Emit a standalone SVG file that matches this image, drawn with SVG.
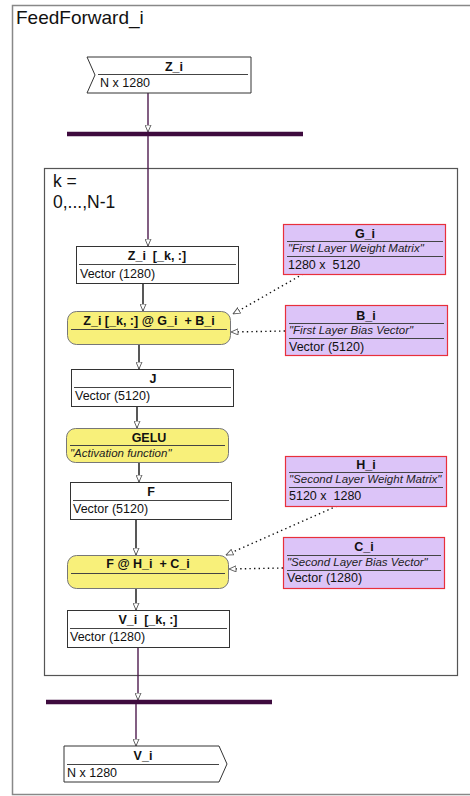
<svg xmlns="http://www.w3.org/2000/svg" width="470" height="796" viewBox="0 0 470 796">
  <style>
    text { font-family: "Liberation Sans", Arial, sans-serif; fill: #111; }
    .title { font-size: 12.5px; font-weight: bold; text-anchor: middle; }
    .body { font-size: 12.5px; }
    .note { font-size: 11.5px; font-style: italic; fill: #222; }
    .frame-label { font-size: 19px; }
    .loop-label { font-size: 17.5px; }
    .plain { fill: #fff; stroke: #333; stroke-width: 1; }
    .op { fill: #f8f07a; stroke: #777; stroke-width: 1; }
    .param { fill: #dcc4f8; stroke: #e8303c; stroke-width: 1.2; }
    .sep { stroke: #444; stroke-width: 1; }
    .flow { stroke: #111; stroke-width: 1.4; fill: none; marker-end: url(#open); }
    .dataflow { stroke: #4e1a4e; stroke-width: 1.4; fill: none; marker-end: url(#open); }
    .dep { stroke: #111; stroke-width: 1.4; stroke-dasharray: 1.4 3.2; fill: none; marker-end: url(#open); }
    .bar { stroke: #3e0b3e; stroke-width: 4.5; }
  </style>
  <defs>
    <marker id="open" viewBox="0 0 8 7" refX="7.5" refY="3.5" markerWidth="8" markerHeight="7" markerUnits="userSpaceOnUse" orient="auto">
      <path d="M0.5,0.5 L7.5,3.5 L0.5,6.5 Z" fill="#fff" stroke="#555" stroke-width="0.9"/>
    </marker>
  </defs>

  <!-- outer function frame -->
  <g id="frame">
    <rect x="12.5" y="5.5" width="470" height="789" fill="#fff" stroke="#888" stroke-width="1.5"/>
    <text class="frame-label" x="16" y="24">FeedForward_i</text>
  </g>

  <!-- loop over rows -->
  <g id="loop">
    <rect x="44.5" y="168.5" width="413" height="507" fill="none" stroke="#555" stroke-width="1.2"/>
    <text class="loop-label" x="53" y="187">k =</text>
    <text class="loop-label" x="53" y="208">0,...,N-1</text>
  </g>

  <!-- connectors -->
  <g id="connectors">
    <line class="dataflow" x1="148" y1="93" x2="148" y2="132"/>
    <line class="bar" x1="67" y1="134" x2="303" y2="134"/>
    <line class="dataflow" x1="148" y1="136" x2="148" y2="246"/>
    <line class="flow" x1="143" y1="283" x2="143" y2="311"/>
    <line class="flow" x1="139" y1="344" x2="139" y2="369"/>
    <line class="flow" x1="137" y1="406" x2="137" y2="428"/>
    <line class="flow" x1="139" y1="462" x2="139" y2="482"/>
    <line class="flow" x1="136" y1="519" x2="136" y2="555"/>
    <line class="flow" x1="136" y1="588" x2="136" y2="610"/>
    <line class="dataflow" x1="138" y1="647" x2="138" y2="700"/>
    <line class="bar" x1="46" y1="702" x2="272" y2="702"/>
    <line class="dataflow" x1="136" y1="704" x2="136" y2="746"/>
    <line class="dep" x1="303" y1="274" x2="233" y2="314"/>
    <line class="dep" x1="285" y1="331" x2="231" y2="332"/>
    <line class="dep" x1="337" y1="506" x2="226" y2="555"/>
    <line class="dep" x1="283" y1="568" x2="229" y2="569"/>
  </g>

  <!-- input port -->
  <g id="Z_i">
    <polygon class="plain" points="87,57 251,57 251,93 87,93 95,75"/>
    <line class="sep" x1="98" y1="74.5" x2="248" y2="74.5"/>
    <text class="title" x="174" y="71">Z_i</text>
    <text class="body" x="100" y="87">N x 1280</text>
  </g>

  <g id="Z_i_row">
    <rect class="plain" x="76.5" y="246.5" width="162" height="37"/>
    <line class="sep" x1="79" y1="264.5" x2="236" y2="264.5"/>
    <text class="title" x="157" y="260" xml:space="preserve">Z_i  [_k, :]</text>
    <text class="body" x="80" y="278">Vector (1280)</text>
  </g>

  <g id="first_layer">
    <rect class="op" x="67.5" y="311.5" width="163" height="33" rx="9"/>
    <line class="sep" x1="71" y1="329.5" x2="227" y2="329.5"/>
    <text class="title" x="149" y="325" xml:space="preserve">Z_i [_k, :] @ G_i  + B_i</text>
  </g>

  <g id="J">
    <rect class="plain" x="71.5" y="369.5" width="162" height="37"/>
    <line class="sep" x1="74" y1="387.5" x2="231" y2="387.5"/>
    <text class="title" x="153" y="383">J</text>
    <text class="body" x="75" y="400">Vector (5120)</text>
  </g>

  <g id="GELU">
    <rect class="op" x="66.5" y="428.5" width="162" height="34" rx="9"/>
    <line class="sep" x1="70" y1="445.5" x2="225" y2="445.5"/>
    <text class="title" x="149" y="442">GELU</text>
    <text class="note" x="70" y="457">"Activation function"</text>
  </g>

  <g id="F">
    <rect class="plain" x="70.5" y="482.5" width="161" height="37"/>
    <line class="sep" x1="73" y1="500.5" x2="229" y2="500.5"/>
    <text class="title" x="151" y="496">F</text>
    <text class="body" x="73" y="513">Vector (5120)</text>
  </g>

  <g id="second_layer">
    <rect class="op" x="67.5" y="555.5" width="161" height="33" rx="9"/>
    <line class="sep" x1="71" y1="573.5" x2="225" y2="573.5"/>
    <text class="title" x="148" y="568" xml:space="preserve">F @ H_i  + C_i</text>
  </g>

  <g id="V_i_row">
    <rect class="plain" x="67.5" y="610.5" width="162" height="37"/>
    <line class="sep" x1="70" y1="628.5" x2="227" y2="628.5"/>
    <text class="title" x="148" y="624" xml:space="preserve">V_i  [_k, :]</text>
    <text class="body" x="70" y="641">Vector (1280)</text>
  </g>

  <!-- parameters -->
  <g id="G_i">
    <rect class="param" x="283.5" y="224.5" width="162" height="50"/>
    <line class="sep" x1="287" y1="241.5" x2="443" y2="241.5"/>
    <line class="sep" x1="287" y1="256.5" x2="443" y2="256.5"/>
    <text class="title" x="365" y="238">G_i</text>
    <text class="note" x="288" y="252">"First Layer Weight Matrix"</text>
    <text class="body" x="288" y="269" xml:space="preserve">1280 x  5120</text>
  </g>

  <g id="B_i">
    <rect class="param" x="285.5" y="305.5" width="162" height="50"/>
    <line class="sep" x1="289" y1="323.5" x2="444" y2="323.5"/>
    <line class="sep" x1="289" y1="338.5" x2="444" y2="338.5"/>
    <text class="title" x="366" y="320">B_i</text>
    <text class="note" x="289" y="334">"First Layer Bias Vector"</text>
    <text class="body" x="289" y="351">Vector (5120)</text>
  </g>

  <g id="H_i">
    <rect class="param" x="285.5" y="456.5" width="161" height="50"/>
    <line class="sep" x1="289" y1="472.5" x2="443" y2="472.5"/>
    <line class="sep" x1="289" y1="487.5" x2="443" y2="487.5"/>
    <text class="title" x="366" y="469">H_i</text>
    <text class="note" x="289" y="483">"Second Layer Weight Matrix"</text>
    <text class="body" x="289" y="500" xml:space="preserve">5120 x  1280</text>
  </g>

  <g id="C_i">
    <rect class="param" x="283.5" y="537.5" width="161" height="51"/>
    <line class="sep" x1="287" y1="555.5" x2="441" y2="555.5"/>
    <line class="sep" x1="287" y1="570.5" x2="441" y2="570.5"/>
    <text class="title" x="364" y="551">C_i</text>
    <text class="note" x="287" y="566">"Second Layer Bias Vector"</text>
    <text class="body" x="287" y="582">Vector (1280)</text>
  </g>

  <!-- output port -->
  <g id="V_i">
    <polygon class="plain" points="64,746 219,746 227,764 219,782 64,782"/>
    <line class="sep" x1="67" y1="764.5" x2="219" y2="764.5"/>
    <text class="title" x="143" y="760">V_i</text>
    <text class="body" x="67" y="777">N x 1280</text>
  </g>
</svg>
